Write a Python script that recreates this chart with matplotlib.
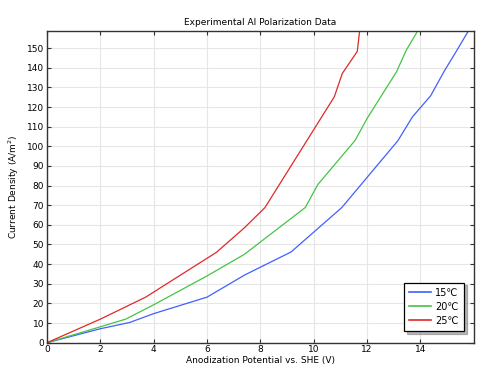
import matplotlib
matplotlib.use("Agg")
import matplotlib.pyplot as plt

title = "Experimental Al Polarization Data"
xlabel = "Anodization Potential vs. SHE (V)"
ylabel = "Current Density (A/m$^2$)"
labels = ["15\u2103", "20\u2103", "25\u2103"]
colors = ["#4060ff", "#44c444", "#e02828"]

x15 = [0, 2, 3.1, 4, 6, 7.4, 9.15, 11.05, 13.15, 13.7, 14.38, 14.9, 15.38, 15.85]
y15 = [0, 7.1, 10.3, 14.8, 23.2, 34.4, 46.2, 68.8, 102.8, 115, 125.7, 138.5, 149.2, 160]

x20 = [0, 2, 2.95, 4, 6, 7.4, 9.68, 10.15, 11.55, 12.0, 13.1, 13.47, 13.95]
y20 = [0, 8.1, 12.0, 19.3, 34.0, 45.0, 68.8, 80.5, 103.0, 114.2, 137.9, 149.0, 160]

x25 = [0, 2, 3.7, 6.35, 7.4, 8.17, 10.77, 11.07, 11.63, 11.73]
y25 = [0, 12.0, 23.2, 46.0, 58.5, 68.8, 125.2, 137.1, 148.3, 160]

xticks = [0, 2, 4, 6, 8, 10, 12, 14]
yticks = list(range(0, 151, 10))

fig = plt.figure(figsize=(4.86, 3.71), dpi=100)
ax = fig.add_axes([0.0967, 0.0763, 0.8783, 0.8407])

for xs, ys, lab, c in zip([x15, x20, x25], [y15, y20, y25], labels, colors):
    ax.plot(xs, ys, color=c, lw=0.9, label=lab)

ax.set_xlim(0, 16)
ax.set_ylim(0, 158.8)
ax.set_xticks(xticks)
ax.set_yticks(yticks)
ax.grid(True, color="#e6e6e6", lw=0.8)
ax.set_axisbelow(True)
ax.tick_params(direction="in", length=3, labelsize=6.5, top=True, right=True,
               color="#333333", pad=2)
for s in ax.spines.values():
    s.set_color("#333333")
    s.set_linewidth(1.0)

ax.set_title(title, fontsize=6.5, pad=4)
ax.set_xlabel(xlabel, fontsize=6.5, labelpad=1)
ax.set_ylabel(ylabel, fontsize=6.5, labelpad=4)

leg = ax.legend(loc="lower right", fontsize=7, fancybox=False,
                shadow={"color": "0.45"},
                edgecolor="black", framealpha=1, handlelength=2.2,
                handletextpad=0.45, borderpad=0.55, labelspacing=0.4,
                borderaxespad=0, bbox_to_anchor=(0.9766, 0.0375))
leg.get_frame().set_linewidth(0.9)
for l in leg.get_lines():
    l.set_linewidth(1.2)

fig.savefig("out.png", dpi=100)
